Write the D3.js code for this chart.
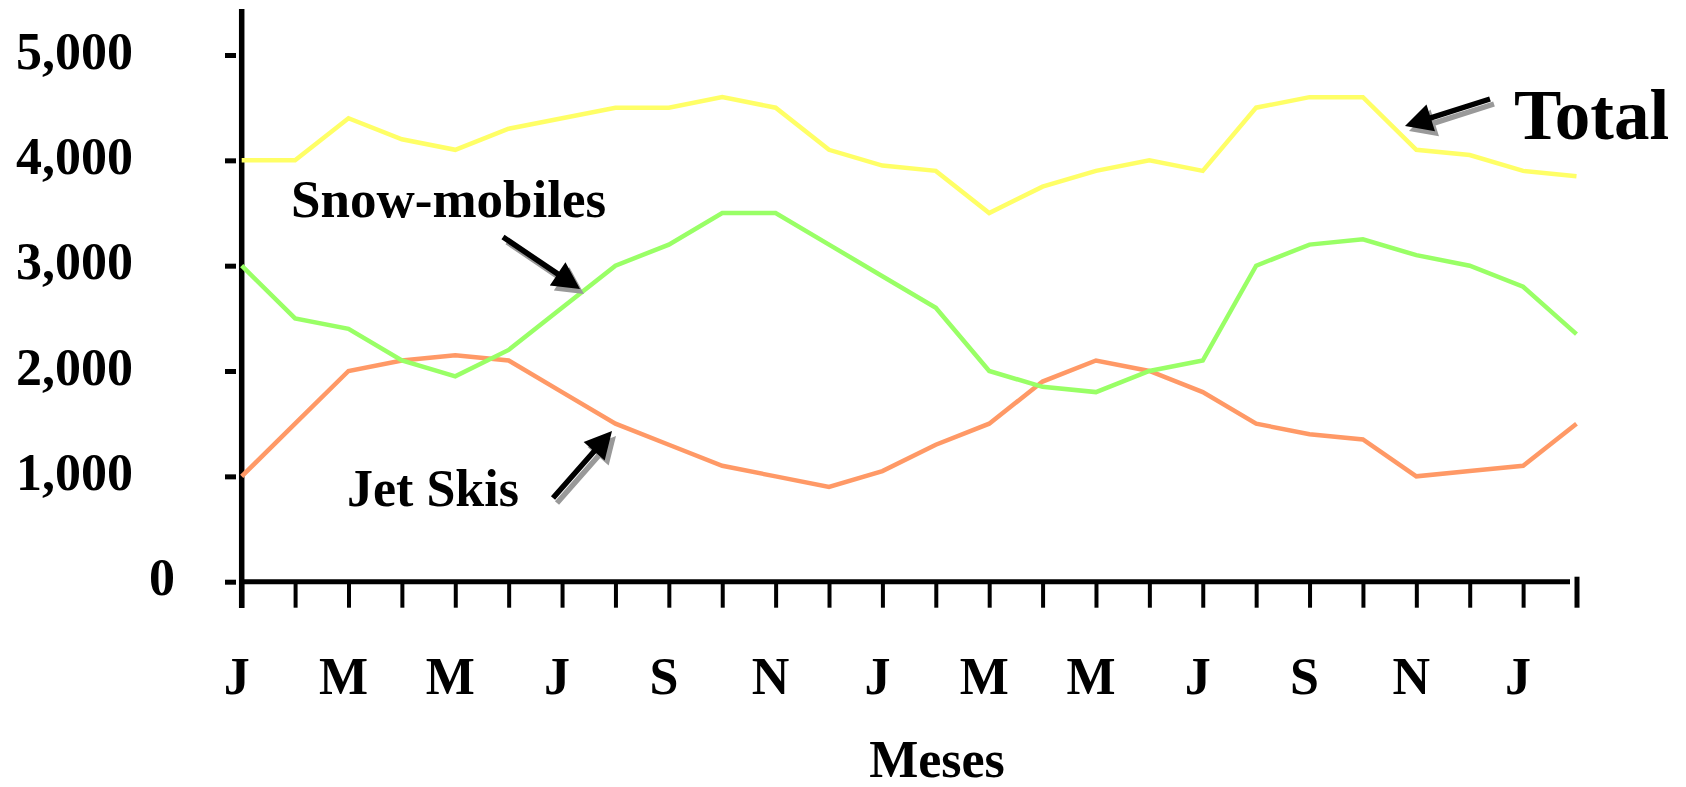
<!DOCTYPE html>
<html>
<head>
<meta charset="utf-8">
<script src="https://cdn.jsdelivr.net/npm/d3@7"></script>
<style>
  html, body { margin: 0; padding: 0; background: #ffffff; }
  svg { display: block; }
  text { font-family: "Liberation Serif", "Times New Roman", serif; font-weight: bold; fill: #000; }
</style>
</head>
<body>
<svg id="chart" width="1686" height="787"></svg>
<script>
// ---- Data ----
const monthIndex = d3.range(26); // Jan (year 1) .. Feb (year 3)
const xTickLabels = ["J", "M", "M", "J", "S", "N", "J", "M", "M", "J", "S", "N", "J"]; // every other month
const yTicks = [0, 1000, 2000, 3000, 4000, 5000];
const yTickLabels = ["0", "1,000", "2,000", "3,000", "4,000", "5,000"];

const jetSkis     = [1000, 1500, 2000, 2100, 2150, 2100, 1800, 1500, 1300, 1100, 1000, 900, 1050, 1300, 1500, 1900, 2100, 2000, 1800, 1500, 1400, 1350, 1000, 1050, 1100, 1500];
const snowMobiles = [3000, 2500, 2400, 2100, 1950, 2200, 2600, 3000, 3200, 3500, 3500, 3200, 2900, 2600, 2000, 1850, 1800, 2000, 2100, 3000, 3200, 3250, 3100, 3000, 2800, 2350];
const total       = [4000, 4000, 4400, 4200, 4100, 4300, 4400, 4500, 4500, 4600, 4500, 4100, 3950, 3900, 3500, 3750, 3900, 4000, 3900, 4500, 4600, 4600, 4100, 4050, 3900, 3850];

const seriesColors = { jet: "#FF9966", snow: "#99FF66", total: "#FFFF66" };

// ---- Layout ----
const svg = d3.select("#chart");
const x = d3.scaleLinear().domain([0, 25]).range([241.7, 1576.5]);
const y = d3.scaleLinear().domain([0, 5000]).range([581.7, 55]);

// Y-axis ticks (short dashes left of the axis line)
const yAxisG = svg.append("g").attr("transform", "translate(236,0)")
  .call(d3.axisLeft(y).tickValues(yTicks).tickSize(11).tickFormat(""));
yAxisG.select(".domain").remove();
yAxisG.selectAll(".tick line").attr("stroke", "#000").attr("stroke-width", 5);

// Y tick labels
svg.append("g").selectAll("text").data(yTicks).join("text")
  .attr("x", (d, i) => d === 0 ? 175 : 133)
  .attr("y", d => y(d) + 13.5)
  .attr("text-anchor", "end")
  .attr("font-size", 52)
  .text((d, i) => yTickLabels[i]);

// X-axis ticks
const xAxisG = svg.append("g").attr("transform", "translate(0,581.7)")
  .call(d3.axisBottom(x).tickValues(monthIndex).tickSize(26).tickFormat(""));
xAxisG.select(".domain").remove();
xAxisG.selectAll(".tick line").attr("stroke", "#000").attr("stroke-width", 4)
  .attr("y1", (d) => d === 25 ? -5 : 0);
xAxisG.selectAll(".tick").filter(d => d === 25).select("line").attr("stroke-width", 5);

// Axis lines
svg.append("line").attr("x1", 241.7).attr("x2", 241.7).attr("y1", 9).attr("y2", 608)
  .attr("stroke", "#000").attr("stroke-width", 5.5);
svg.append("line").attr("x1", 239).attr("x2", 1570).attr("y1", 581.7).attr("y2", 581.7)
  .attr("stroke", "#000").attr("stroke-width", 5);

// X tick labels (every other month)
const labelIdx = monthIndex.filter(i => i % 2 === 0 && i <= 24);
svg.append("g").selectAll("text").data(labelIdx).join("text")
  .attr("x", d => x(d) - 5)
  .attr("y", 694)
  .attr("text-anchor", "middle")
  .attr("font-size", 52)
  .text((d, i) => xTickLabels[i]);

// Axis title
svg.append("text").attr("x", 937).attr("y", 777).attr("text-anchor", "middle")
  .attr("font-size", 52).text("Meses");

// ---- Lines ----
const line = d3.line().x((d, i) => x(i)).y(d => y(d));
[[jetSkis, seriesColors.jet], [snowMobiles, seriesColors.snow], [total, seriesColors.total]]
  .forEach(([data, color]) => {
    svg.append("path").datum(data)
      .attr("fill", "none").attr("stroke", color).attr("stroke-width", 4.5)
      .attr("stroke-linejoin", "miter").attr("d", line);
  });

// ---- Annotations ----
function arrowPath(tx, ty, hx, hy, headLen, headW, shaftW) {
  const dx = hx - tx, dy = hy - ty, L = Math.hypot(dx, dy);
  const ux = dx / L, uy = dy / L, px = -uy, py = ux;
  const bx = hx - ux * headLen, by = hy - uy * headLen;
  const p = d3.path();
  p.moveTo(tx + px * shaftW / 2, ty + py * shaftW / 2);
  p.lineTo(bx + px * shaftW / 2, by + py * shaftW / 2);
  p.lineTo(bx + px * headW / 2, by + py * headW / 2);
  p.lineTo(hx, hy);
  p.lineTo(bx - px * headW / 2, by - py * headW / 2);
  p.lineTo(bx - px * shaftW / 2, by - py * shaftW / 2);
  p.lineTo(tx - px * shaftW / 2, ty - py * shaftW / 2);
  p.closePath();
  return p.toString();
}
function drawArrow(t, h) {
  const d = arrowPath(t[0], t[1], h[0], h[1], 27, 28, 5.5);
  svg.append("path").attr("d", d).attr("fill", "#999999").attr("transform", "translate(4,5)");
  svg.append("path").attr("d", d).attr("fill", "#000000");
}
drawArrow([1490, 99], [1405, 126]);
drawArrow([503, 237], [580, 289]);
drawArrow([553, 498], [612, 431]);

svg.append("text").attr("x", 1514).attr("y", 139).attr("font-size", 71).text("Total");
svg.append("text").attr("x", 291).attr("y", 217).attr("font-size", 53).text("Snow-mobiles");
svg.append("text").attr("x", 347).attr("y", 506).attr("font-size", 52).text("Jet Skis");
</script>
</body>
</html>
